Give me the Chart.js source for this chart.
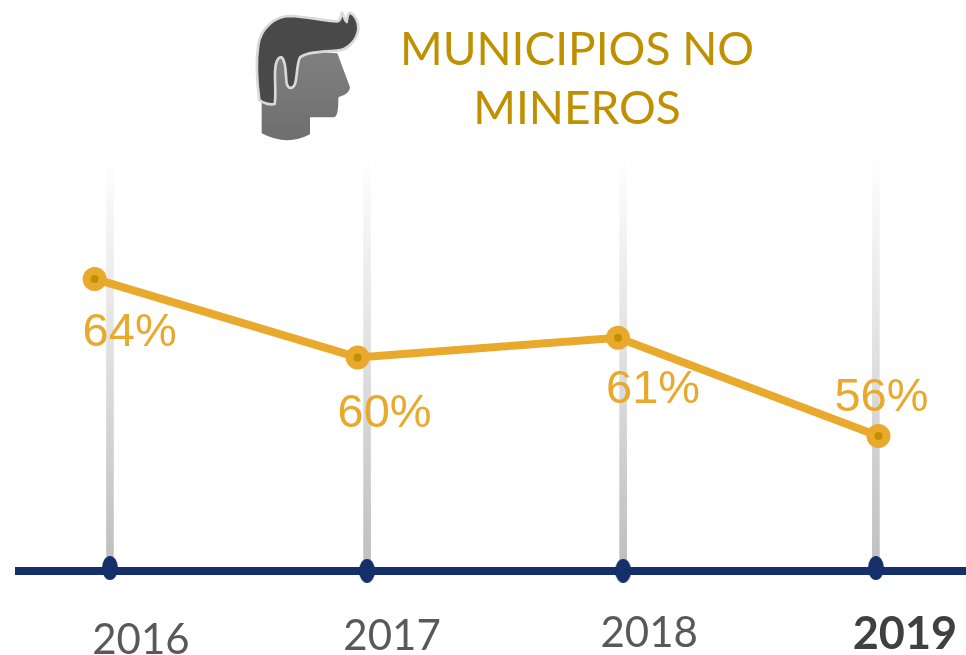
<!DOCTYPE html>
<html>
<head>
<meta charset="utf-8">
<title>Municipios no mineros</title>
<script src="https://cdn.jsdelivr.net/npm/chart.js@4"></script>
<style>
  html, body { margin: 0; padding: 0; background: #fff; overflow: hidden; }
  #wrap { position: relative; width: 966px; height: 655px; }
  #chartLine { position: absolute; left: 0; top: 0; }
  #icon { position: absolute; left: 240px; top: 0; width: 140px; height: 150px; }
  #title {
    position: absolute; left: 340px; top: 18px; width: 474px;
    font: 400 46px/59px Lato, sans-serif; color: #BF9000; text-align: center;
  }
</style>
</head>
<body>
<div id="wrap">
  <canvas id="chartLine" width="966" height="655"></canvas>
  <svg id="icon" viewBox="0 0 420 450">
    <defs>
      <linearGradient id="face" x1="0" y1="0" x2="0" y2="1">
        <stop offset="0" stop-color="#808080"/>
        <stop offset="1" stop-color="#6e6e6e"/>
      </linearGradient>
      <filter id="soft"><feGaussianBlur stdDeviation="1.6"/></filter>
    </defs>
    <g filter="url(#soft)">
      <path fill="url(#face)" d="M65 290 L65 400 Q140 440 210 403 L210 352 L282 352 Q296 350 295 292 Q330 282 330 262 L292 160 L120 150 Z"/>
      <path fill="#484848" stroke="#d9d9d9" stroke-width="8" stroke-linejoin="round"
        d="M55 135 C62 85 105 48 150 48 C200 50 250 62 292 64 C305 62 302 42 306 38 C312 48 314 62 320 66 C322 55 322 42 330 38 C345 45 356 65 355 88 C350 120 325 150 290 152 C250 155 205 155 180 172 C170 190 172 230 165 252 C158 268 145 268 140 250 C136 225 140 185 125 172 C112 170 105 190 105 225 C105 260 108 290 104 312 C90 315 70 310 58 300 C50 240 48 180 55 135 Z"/>
    </g>
  </svg>
  <div id="title">MUNICIPIOS NO<br>MINEROS</div>
</div>
<script>
// data
const years = ['2016', '2017', '2018', '2019']
const stemX = [2016, 2017.007, 2018.01, 2019]
const pointX = [2015.94, 2016.97, 2017.99, 2019.01]
const percent = [64, 60, 61, 56]
const dotValues = [49.27, 49.13, 49.13, 49.27]
const stemTop = 70.4
const axisMin = 49.12
const axisMax = 70.57
const xMin = 2015.628
const xMax = 2019.353

// label placement, pixels
const percentDx = [35, 27, 35, 3]
const percentY = [333, 414, 390, 398]
const yearDx = [31, 25, 26, 29]
const yearY = [640, 636, 633, 634]

const lineColor = '#E9A92C'
const axisColor = '#152F6B'

// ellipse marker on the axis
const dot = document.createElement('canvas')
dot.width = 16
dot.height = 24
const dotCtx = dot.getContext('2d')
dotCtx.fillStyle = axisColor
dotCtx.beginPath()
dotCtx.ellipse(8, 12, 8, 12, 0, 0, Math.PI * 2)
dotCtx.fill()

const labelsPlugin = {
    id: 'labelsPlugin',
    afterDatasetsDraw(chart) {
        const { ctx, scales } = chart
        ctx.save()
        ctx.textAlign = 'center'
        ctx.textBaseline = 'middle'

        ctx.font = '47px "Liberation Sans"'
        ctx.fillStyle = lineColor
        percent.forEach((v, i) => {
            ctx.fillText(v + '%', scales.x.getPixelForValue(pointX[i]) + percentDx[i], percentY[i])
        })

        years.forEach((y, i) => {
            const last = i === years.length - 1
            ctx.font = last ? '700 45px Lato, sans-serif' : '400 42px Lato, sans-serif'
            ctx.fillStyle = last ? '#404040' : '#595959'
            ctx.fillText(y, scales.x.getPixelForValue(stemX[i]) + yearDx[i], yearY[i])
        })
        ctx.restore()
    }
}

new Chart(document.getElementById('chartLine'), {
    type: 'bar',
    data: {
        datasets: [
            {
                type: 'line',
                data: pointX.map((x, i) => ({ x, y: percent[i] })),
                borderColor: lineColor,
                borderWidth: 8,
                tension: 0,
                pointRadius: 8,
                pointBorderWidth: 8,
                pointBorderColor: lineColor,
                pointBackgroundColor: '#BF9000',
                clip: false,
                order: 1
            },
            {
                type: 'line',
                data: stemX.map((x, i) => ({ x, y: dotValues[i] })),
                showLine: false,
                pointStyle: dot,
                clip: false,
                order: 2
            },
            {
                type: 'line',
                data: [{ x: xMin, y: axisMin }, { x: xMax, y: axisMin }],
                borderColor: axisColor,
                borderWidth: 8,
                pointRadius: 0,
                clip: false,
                order: 3
            },
            {
                type: 'bar',
                data: stemX.map(x => ({ x, y: stemTop })),
                base: axisMin,
                barThickness: 7,
                backgroundColor: ctx => {
                    const area = ctx.chart.chartArea
                    if (!area) return '#bbb'
                    const grad = ctx.chart.ctx.createLinearGradient(0, area.top + 5, 0, area.bottom)
                    grad.addColorStop(0, 'rgba(190,190,190,0)')
                    grad.addColorStop(1, 'rgba(190,190,190,1)')
                    return grad
                },
                order: 4
            }
        ]
    },
    options: {
        responsive: false,
        animation: false,
        layout: { autoPadding: false, padding: { left: 15, right: 0, top: 150, bottom: 84 } },
        scales: {
            x: { type: 'linear', offset: false, bounds: 'data', min: xMin, max: xMax, display: false },
            y: { bounds: 'data', min: axisMin, max: axisMax, display: false }
        },
        plugins: {
            legend: { display: false },
            tooltip: { enabled: false }
        }
    },
    plugins: [labelsPlugin]
})
</script>
</body>
</html>
